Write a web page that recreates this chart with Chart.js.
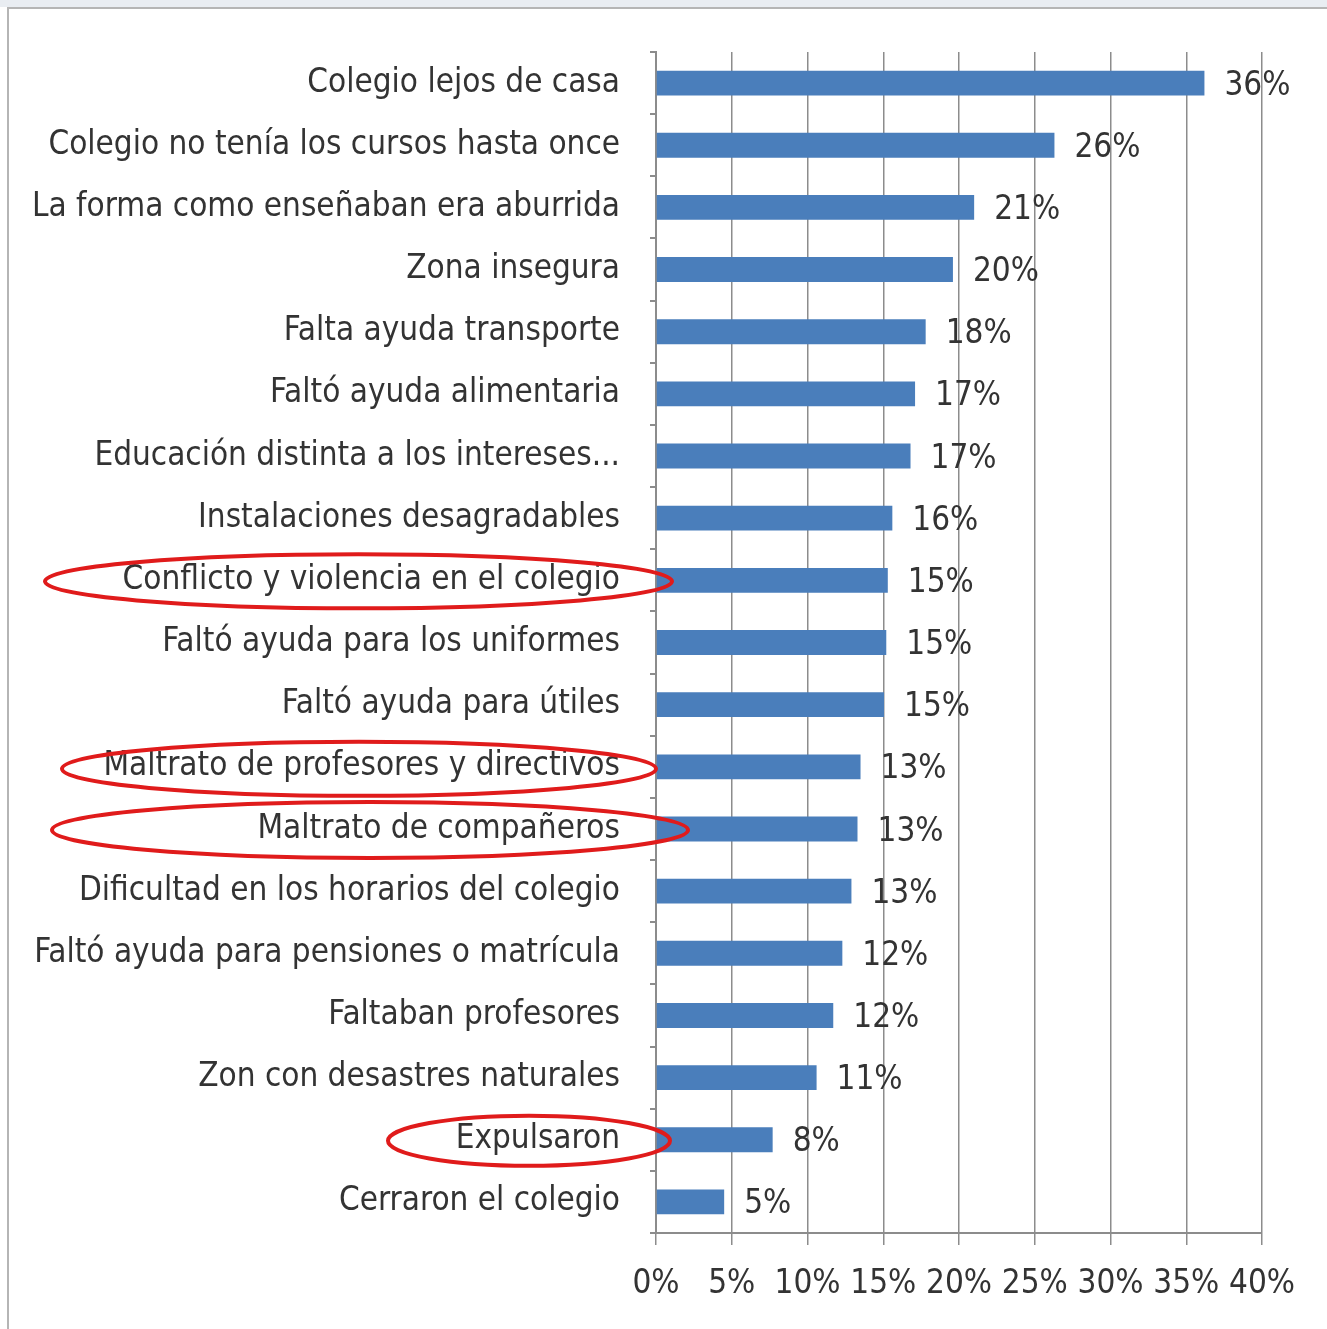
<!DOCTYPE html>
<html>
<head>
<meta charset="utf-8">
<script src="https://cdn.jsdelivr.net/npm/chart.js@4.4.1/dist/chart.umd.min.js"></script>
<style>
  html, body { margin: 0; padding: 0; background: #fff; }
  #wrap { position: relative; width: 1327px; height: 1329px; }
  #frame { position: absolute; left: 7px; top: 7px; right: 0; bottom: 0; border-left: 2px solid #b5b5b5; border-top: 2px solid #b5b5b5; pointer-events: none; }
  #topband { position: absolute; left: 0; top: 0; width: 1327px; height: 7px; background: #e9edf2; }
</style>
</head>
<body>
<div id="wrap">
  <div id="topband"></div>
  <canvas id="chart" width="1327" height="1329"></canvas>
  <div id="frame"></div>
</div>
<script>
const categories = [
  'Colegio lejos de casa',
  'Colegio no tenía los cursos hasta once',
  'La forma como enseñaban era aburrida',
  'Zona insegura',
  'Falta ayuda transporte',
  'Faltó ayuda alimentaria',
  'Educación distinta a los intereses...',
  'Instalaciones desagradables',
  'Conflicto y violencia en el colegio',
  'Faltó ayuda para los uniformes',
  'Faltó ayuda para útiles',
  'Maltrato de profesores y directivos',
  'Maltrato de compañeros',
  'Dificultad en los horarios del colegio',
  'Faltó ayuda para pensiones o matrícula',
  'Faltaban profesores',
  'Zon con desastres naturales',
  'Expulsaron',
  'Cerraron el colegio'
];
const values = [36.2, 26.3, 21.0, 19.6, 17.8, 17.1, 16.8, 15.6, 15.3, 15.2, 15.05, 13.5, 13.3, 12.9, 12.3, 11.7, 10.6, 7.7, 4.5];
const valueLabels = ['36%', '26%', '21%', '20%', '18%', '17%', '17%', '16%', '15%', '15%', '15%', '13%', '13%', '13%', '12%', '12%', '11%', '8%', '5%'];
const xTicks = [0, 5, 10, 15, 20, 25, 30, 35, 40];
const circled = ['Conflicto y violencia en el colegio', 'Maltrato de profesores y directivos', 'Maltrato de compañeros', 'Expulsaron'];

const FONT = "'Liberation Sans Narrow', 'DejaVu Sans Condensed', 'Open Sans', sans-serif";
const TEXT = '#333333';

// how far each red ellipse reaches left / right of the value axis, in px
const ellipseExtent = {
  'Conflicto y violencia en el colegio': { left: 611, right: 16, ry: 27, dy: 1 },
  'Maltrato de profesores y directivos': { left: 594, right: 0, ry: 27, dy: 2 },
  'Maltrato de compañeros': { left: 604, right: 32, ry: 28, dy: 1 },
  'Expulsaron': { left: 268, right: 14, ry: 25, dy: 1 }
};

const valueLabelPlugin = {
  id: 'valueLabels',
  afterDatasetsDraw(chart) {
    const ctx = chart.ctx;
    const meta = chart.getDatasetMeta(0);
    ctx.save();
    ctx.font = '33px ' + FONT;
    ctx.fillStyle = TEXT;
    ctx.textAlign = 'left';
    ctx.textBaseline = 'middle';
    meta.data.forEach((bar, i) => {
      ctx.fillText(valueLabels[i], bar.x + 20, bar.y + 3);
    });
    ctx.restore();
  }
};

const ellipsePlugin = {
  id: 'ellipses',
  afterDraw(chart) {
    const ctx = chart.ctx;
    const yScale = chart.scales.y;
    const axisX = chart.chartArea.left;
    ctx.save();
    ctx.strokeStyle = '#e01b1b';
    ctx.lineWidth = 4;
    circled.forEach(name => {
      const e = ellipseExtent[name];
      const idx = categories.indexOf(name);
      const cy = yScale.getPixelForValue(idx) + e.dy;
      const x1 = axisX - e.left, x2 = axisX + e.right;
      ctx.beginPath();
      ctx.ellipse((x1 + x2) / 2, cy, (x2 - x1) / 2, e.ry, 0, 0, Math.PI * 2);
      ctx.stroke();
    });
    ctx.restore();
  }
};

new Chart(document.getElementById('chart'), {
  type: 'bar',
  data: {
    labels: categories,
    datasets: [{
      data: values,
      backgroundColor: '#4a7ebb',
      borderWidth: 0,
      barPercentage: 0.4,
      categoryPercentage: 1.0
    }]
  },
  plugins: [valueLabelPlugin, ellipsePlugin],
  options: {
    indexAxis: 'y',
    responsive: false,
    animation: false,
    devicePixelRatio: 1,
    layout: { padding: { top: 52, right: 65, bottom: 0, left: 0 } },
    plugins: {
      legend: { display: false },
      tooltip: { enabled: false }
    },
    scales: {
      x: {
        min: 0,
        max: 40,
        afterBuildTicks: scale => { scale.ticks = xTicks.map(v => ({ value: v })); },
        afterFit: scale => { scale.height = 96; },
        border: { color: '#8c8c8c', width: 2 },
        grid: { color: '#8c8c8c', lineWidth: 1.5, tickLength: 12, drawTicks: true },
        ticks: {
          color: TEXT,
          padding: 20,
          font: { family: FONT, size: 33 },
          callback: v => v + '%'
        }
      },
      y: {
        afterFit: scale => { scale.width = 656; },
        border: { color: '#8c8c8c', width: 2 },
        grid: { drawOnChartArea: false, drawTicks: true, tickLength: 6, color: '#8c8c8c', lineWidth: 2, offset: true },
        ticks: {
          color: TEXT,
          padding: 30,
          font: { family: FONT, size: 33 },
          autoSkip: false
        }
      }
    }
  }
});
</script>
</body>
</html>
